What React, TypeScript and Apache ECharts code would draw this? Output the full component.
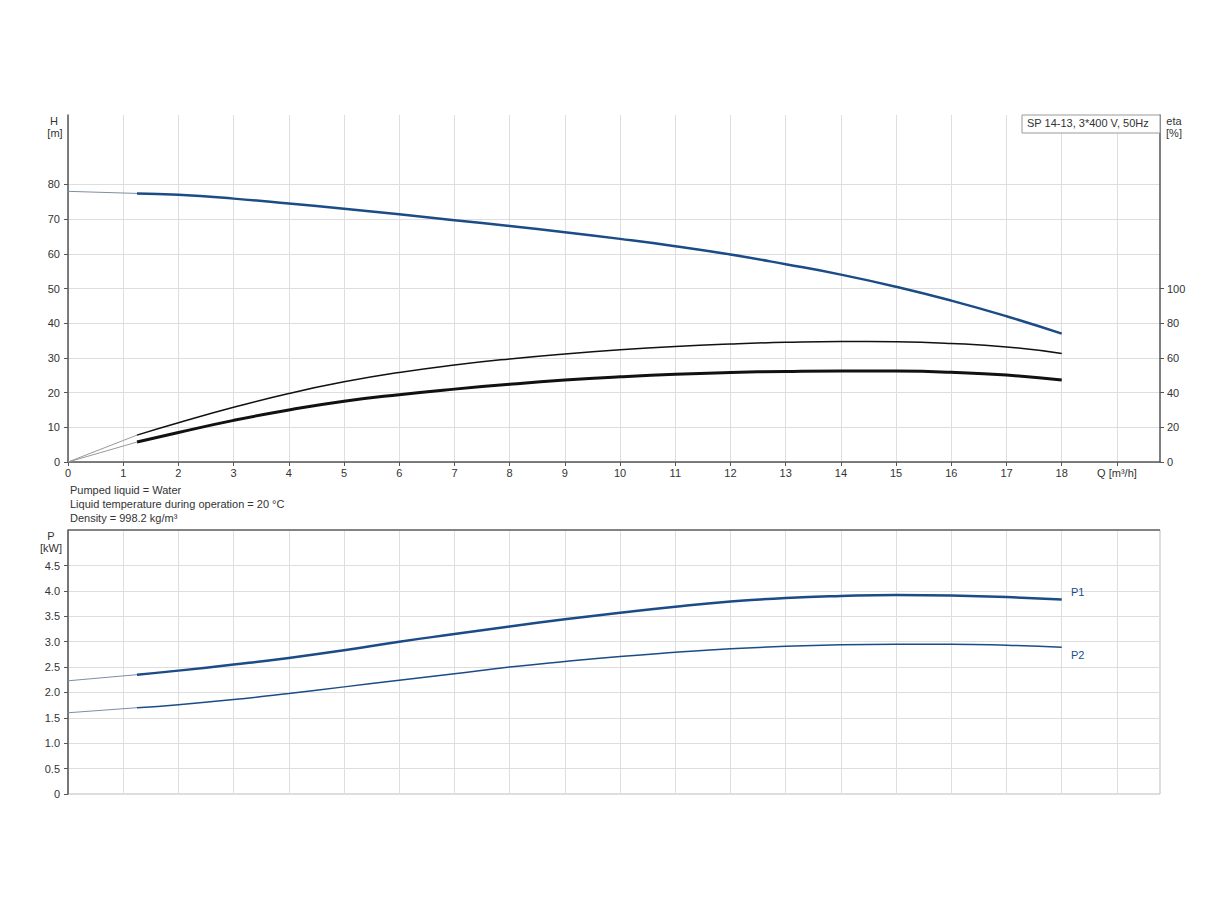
import React, { useEffect, useRef } from "react";
import * as echarts from "echarts";

const qValues = [1.25, 2, 3, 4, 5, 6, 7, 8, 9, 10, 11, 12, 13, 14, 15, 16, 17, 18];
const headValues = [77.4, 77.0, 75.9, 74.5, 73.0, 71.4, 69.7, 68.0, 66.2, 64.3, 62.2, 59.8, 57.0, 54.0, 50.5, 46.5, 42.0, 37.0];
const etaPump = [15.5, 22.6, 31.5, 39.5, 46.2, 51.6, 55.9, 59.4, 62.3, 64.7, 66.6, 68.0, 69.0, 69.5, 69.3, 68.3, 66.3, 62.6];
const etaTotal = [11.5, 17, 24, 30, 35, 38.8, 42, 44.8, 47.2, 49.1, 50.6, 51.6, 52.2, 52.5, 52.4, 51.7, 50.1, 47.2];
const p1Values = [2.35, 2.43, 2.55, 2.68, 2.83, 3.0, 3.15, 3.3, 3.44, 3.57, 3.69, 3.79, 3.86, 3.9, 3.92, 3.91, 3.88, 3.83];
const p2Values = [1.7, 1.76, 1.86, 1.98, 2.11, 2.24, 2.37, 2.5, 2.61, 2.71, 2.79, 2.86, 2.91, 2.94, 2.95, 2.95, 2.93, 2.89];

const headAtZero = 78;
const p1AtZero = 2.23;
const p2AtZero = 1.6;
const etaAtZero = 0;

const xTickLabels = ["0", "1", "2", "3", "4", "5", "6", "7", "8", "9", "10", "11", "12", "13", "14", "15", "16", "17", "18", "Q [m³/h]"];
const hTicks = [0, 10, 20, 30, 40, 50, 60, 70, 80];
const etaTicks = [0, 20, 40, 60, 80, 100];
const pTicks = [0, 0.5, 1, 1.5, 2, 2.5, 3, 3.5, 4, 4.5];
const xTicks = [0, 1, 2, 3, 4, 5, 6, 7, 8, 9, 10, 11, 12, 13, 14, 15, 16, 17, 18, 19];

const noteLines = ["Pumped liquid = Water", "Liquid temperature during operation = 20 °C", "Density = 998.2 kg/m³"];
const titleText = "SP 14-13, 3*400 V, 50Hz";

const FONT = "'Liberation Sans', Arial, sans-serif";
const BLUE = "#1b4c87";
const AXIS = "#555";
const GRIDC = "#dedede";
const LABEL = "#333";

const pair = (xs: number[], ys: number[]) => xs.map((x, i) => [x, ys[i]]);

export default function App() {
  const ref = useRef<HTMLDivElement>(null);
  useEffect(() => {
    if (!ref.current) return;
    const chart = echarts.init(ref.current, undefined, { renderer: "svg" });
    const X0 = 68, X1 = 1160;
    const xAxisBase = {
      type: "value",
      min: 0,
      max: 19.78,
      interval: 1,
      splitLine: { show: true, lineStyle: { color: GRIDC, width: 1 } },
      axisTick: { show: true, length: 4, lineStyle: { color: AXIS } },
    };
    const lineS = (name: string, data: any, xi: number, yi: number, color: string, width: number, smooth = true) => ({
      type: "line",
      name,
      data,
      xAxisIndex: xi,
      yAxisIndex: yi,
      showSymbol: false,
      symbol: "none",
      smooth,
      lineStyle: { color, width },
      z: 5,
    });
    const option: any = {
      animation: false,
      backgroundColor: "#fff",
      textStyle: { fontFamily: FONT },
      grid: [
        { left: X0, top: 115, width: X1 - X0, height: 462 - 115, show: false },
        { left: X0, top: 530, width: X1 - X0, height: 794 - 530, show: true, borderColor: "#bbb", borderWidth: 1 },
      ],
      xAxis: [
        {
          ...xAxisBase,
          gridIndex: 0,
          axisLine: { show: true, lineStyle: { color: AXIS, width: 1.5 } },
          axisTick: { show: true, length: 4, lineStyle: { color: AXIS }, customValues: xTicks },
          axisLabel: {
            show: true,
            color: LABEL,
            fontSize: 11,
            fontFamily: FONT,
            margin: 5,
            customValues: xTicks,
            formatter: (v: number) => xTickLabels[Math.round(v)] ?? "",
          },
        },
        {
          ...xAxisBase,
          gridIndex: 1,
          axisLine: { show: false },
          axisTick: { show: false },
          axisLabel: { show: false },
        },
      ],
      yAxis: [
        {
          type: "value",
          gridIndex: 0,
          min: 0,
          max: 100,
          interval: 10,
          position: "left",
          axisLine: { show: true, lineStyle: { color: AXIS, width: 1.5 } },
          axisTick: { show: true, length: 4, lineStyle: { color: AXIS }, customValues: hTicks },
          axisLabel: { color: LABEL, fontSize: 11, fontFamily: FONT, margin: 8, customValues: hTicks },
          splitLine: { show: true, lineStyle: { color: GRIDC } },
        },
        {
          type: "value",
          gridIndex: 0,
          min: 0,
          max: 200,
          interval: 20,
          position: "right",
          axisLine: { show: true, lineStyle: { color: AXIS, width: 1.5 } },
          axisTick: { show: true, length: 4, lineStyle: { color: AXIS }, customValues: etaTicks },
          axisLabel: { color: LABEL, fontSize: 11, fontFamily: FONT, margin: 7, customValues: etaTicks },
          splitLine: { show: false },
        },
        {
          type: "value",
          gridIndex: 1,
          min: 0,
          max: 5.2,
          interval: 0.5,
          position: "left",
          axisLine: { show: true, lineStyle: { color: AXIS, width: 1.5 } },
          axisTick: { show: true, length: 4, lineStyle: { color: AXIS }, customValues: pTicks },
          axisLabel: {
            color: LABEL,
            fontSize: 11,
            fontFamily: FONT,
            margin: 8,
            customValues: pTicks,
            formatter: (v: number) => (v === 0 ? "0" : v.toFixed(1)),
          },
          splitLine: { show: true, lineStyle: { color: GRIDC } },
        },
      ],
      series: [
        lineS("H ext", [[0, headAtZero], [qValues[0], headValues[0]]], 0, 0, "#7d8ea6", 1, false),
        lineS("H", pair(qValues, headValues), 0, 0, BLUE, 2.5),
        lineS("eta ext1", [[0, etaAtZero], [qValues[0], etaPump[0]]], 0, 1, "#999", 1, false),
        lineS("eta ext2", [[0, etaAtZero], [qValues[0], etaTotal[0]]], 0, 1, "#999", 1, false),
        lineS("eta pump", pair(qValues, etaPump), 0, 1, "#111", 1.5),
        lineS("eta total", pair(qValues, etaTotal), 0, 1, "#111", 3),
        lineS("P1 ext", [[0, p1AtZero], [qValues[0], p1Values[0]]], 1, 2, "#7d8ea6", 1, false),
        lineS("P2 ext", [[0, p2AtZero], [qValues[0], p2Values[0]]], 1, 2, "#7d8ea6", 1, false),
        lineS("P1", pair(qValues, p1Values), 1, 2, BLUE, 2.5),
        lineS("P2", pair(qValues, p2Values), 1, 2, BLUE, 1.5),
      ],
      graphic: [
        { type: "line", shape: { x1: X0, y1: 530, x2: X1, y2: 530 }, style: { stroke: "#666", lineWidth: 1.5 }, z: 10 },
        { type: "rect", shape: { x: 1022, y: 115, width: X1 - 1022, height: 18 }, style: { fill: "#fff", stroke: "#999", lineWidth: 1 }, z: 10 },
        { type: "text", x: 1027, y: 117.5, style: { text: titleText, font: `11px ${FONT}`, fill: LABEL }, z: 11 },
        { type: "text", x: 54, y: 115, style: { text: "H", font: `11px ${FONT}`, fill: LABEL, align: "center" }, z: 11 },
        { type: "text", x: 55, y: 127, style: { text: "[m]", font: `11px ${FONT}`, fill: LABEL, align: "center" }, z: 11 },
        { type: "text", x: 1174, y: 115, style: { text: "eta", font: `11px ${FONT}`, fill: LABEL, align: "center" }, z: 11 },
        { type: "text", x: 1174, y: 127, style: { text: "[%]", font: `11px ${FONT}`, fill: LABEL, align: "center" }, z: 11 },
        { type: "text", x: 51, y: 530, style: { text: "P", font: `11px ${FONT}`, fill: LABEL, align: "center" }, z: 11 },
        { type: "text", x: 51, y: 542, style: { text: "[kW]", font: `11px ${FONT}`, fill: LABEL, align: "center" }, z: 11 },
        { type: "text", x: 70, y: 484, style: { text: noteLines[0], font: `11px ${FONT}`, fill: LABEL }, z: 11 },
        { type: "text", x: 70, y: 498, style: { text: noteLines[1], font: `11px ${FONT}`, fill: LABEL }, z: 11 },
        { type: "text", x: 70, y: 512, style: { text: noteLines[2], font: `11px ${FONT}`, fill: LABEL }, z: 11 },
        { type: "text", x: 1071, y: 586, style: { text: "P1", font: `11px ${FONT}`, fill: BLUE }, z: 11 },
        { type: "text", x: 1071, y: 649, style: { text: "P2", font: `11px ${FONT}`, fill: BLUE }, z: 11 },
      ],
    };
    chart.setOption(option);
    return () => chart.dispose();
  }, []);
  return <div ref={ref} style={{ position: "fixed", left: 0, top: 0, width: 1224, height: 900 }} />;
}
